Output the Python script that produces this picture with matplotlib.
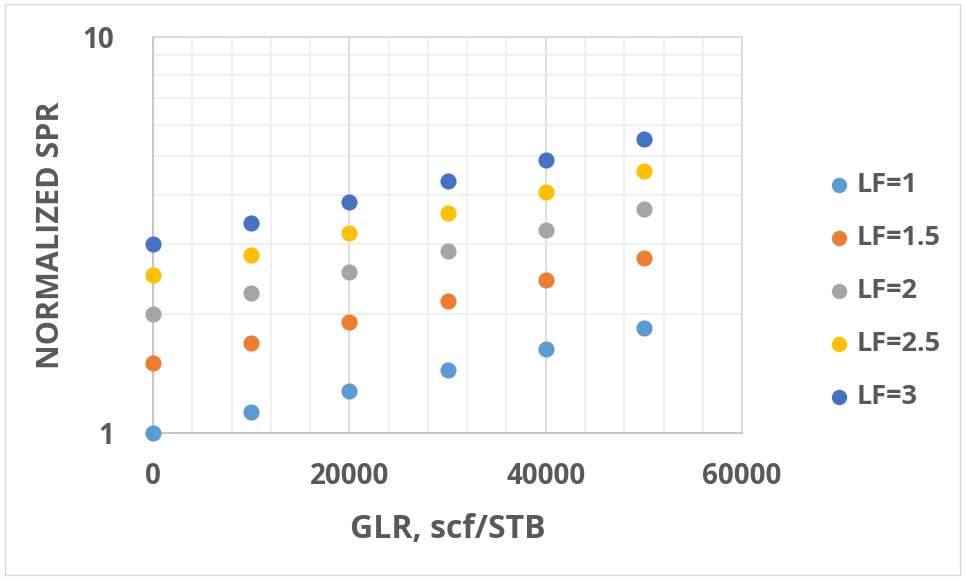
import numpy as np
import matplotlib.pyplot as plt
from matplotlib.ticker import FixedLocator, NullFormatter, MultipleLocator

# --- data ---
glr = [0, 10000, 20000, 30000, 40000, 50000]
lf_labels = ["LF=1", "LF=1.5", "LF=2", "LF=2.5", "LF=3"]
spr_lf1 = [1.00, 1.13, 1.28, 1.44, 1.63, 1.84]
spr_lf15 = [1.50, 1.69, 1.91, 2.16, 2.44, 2.76]
spr_lf2 = [2.00, 2.26, 2.55, 2.88, 3.25, 3.68]
spr_lf25 = [2.50, 2.82, 3.19, 3.60, 4.07, 4.60]
spr_lf3 = [3.00, 3.39, 3.83, 4.33, 4.89, 5.51]
series = [spr_lf1, spr_lf15, spr_lf2, spr_lf25, spr_lf3]
colors = ["#5b9bd5", "#ed7d31", "#a5a5a5", "#ffc000", "#4472c4"]

text_col = "#595959"
plt.rcParams['font.family'] = ['Open Sans', 'DejaVu Sans']
plt.rcParams['font.weight'] = 'bold'

fig = plt.figure(figsize=(9.65, 5.78), dpi=100)
ax = fig.add_axes([0.1585, 0.2509, 0.6105, 0.6851])

for vals, c, lab in zip(series, colors, lf_labels):
    ax.scatter(glr, vals, s=135, color=c, label=lab, zorder=3, clip_on=False, linewidths=0)

ax.set_yscale('log')
ax.set_ylim(1, 10)
ax.set_xlim(0, 60000)
ax.yaxis.set_major_locator(FixedLocator([1, 10]))
ax.yaxis.set_minor_locator(FixedLocator([2, 3, 4, 5, 6, 7, 8, 9]))
ax.yaxis.set_minor_formatter(NullFormatter())
ax.set_yticklabels(["1", "10"])
ax.xaxis.set_major_locator(MultipleLocator(20000))
ax.xaxis.set_minor_locator(MultipleLocator(4000))

ax.grid(which='major', color='#d9d9d9', linewidth=1.2)
ax.grid(which='minor', color='#eeeeee', linewidth=1.2)
ax.set_axisbelow(True)
for s in ax.spines.values():
    s.set_color('#d9d9d9')
    s.set_linewidth(1.2)
ax.spines['left'].set_color('#bfbfbf')
ax.spines['bottom'].set_color('#bfbfbf')

ax.tick_params(which='both', length=0, labelsize=20, labelcolor=text_col)
ax.tick_params(axis='x', pad=21)
ax.tick_params(axis='y', pad=28)

ax.set_xlabel("GLR, scf/STB", fontsize=23, color=text_col, labelpad=16, fontweight='bold')
ax.set_ylabel("NORMALIZED SPR", fontsize=22, color=text_col, labelpad=12, fontweight='bold')

leg = ax.legend(loc='center left', bbox_to_anchor=(1.095, 0.359), frameon=False,
                fontsize=19.5, labelspacing=1.0, handletextpad=0.05, handlelength=1.2,
                markerscale=0.95)
for t in leg.get_texts():
    t.set_color(text_col)

fig.patches.append(plt.Rectangle((0.005, 0.005), 0.99, 0.988, transform=fig.transFigure,
                                 fill=False, edgecolor='#d9d9d9', linewidth=1))

fig.savefig("out.png", dpi=100)
